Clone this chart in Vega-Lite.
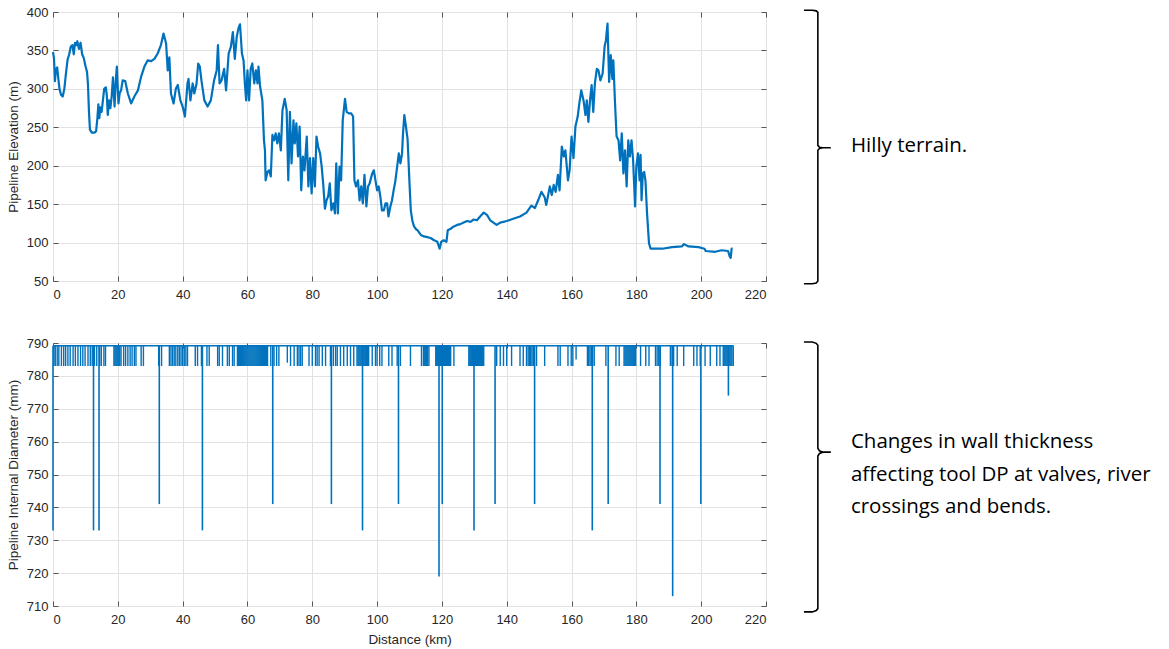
{
  "$schema": "https://vega.github.io/schema/vega-lite/v6.json",
  "background": "white",
  "padding": {"left": 5, "top": 5, "right": 5, "bottom": 5},
  "spacing": 62,
  "bounds": "flush",
  "config": {
    "font": "Liberation Sans",
    "view": {"stroke": "#808080", "strokeWidth": 1},
    "axis": {
      "labelFont": "Liberation Sans", "labelFontSize": 13, "labelColor": "#262626", "labelOverlap": false,
      "titleFont": "Liberation Sans", "titleFontSize": 13.5, "titleFontWeight": "normal", "titleColor": "#262626",
      "gridColor": "#e2e2e2", "gridWidth": 1, "domain": false, "tickColor": "#555555", "tickWidth": 1,
      "titlePadding": 6
    }
  },
  "datasets": {
    "elev": [
      {"km":0,"elev":348},{"km":0.3,"elev":340},{"km":0.6,"elev":310},{"km":0.9,"elev":325},{"km":1.3,"elev":328},{"km":1.6,"elev":315},{"km":2.0,"elev":300},{"km":2.5,"elev":292},{"km":3.0,"elev":290},{"km":3.5,"elev":300},{"km":4.0,"elev":320},{"km":4.5,"elev":338},{"km":5.0,"elev":345},{"km":5.5,"elev":355},{"km":6.0,"elev":357},{"km":6.4,"elev":345},{"km":6.8,"elev":360},{"km":7.2,"elev":357},{"km":7.5,"elev":362},{"km":8.0,"elev":352},{"km":8.5,"elev":360},{"km":9.0,"elev":345},{"km":9.5,"elev":340},{"km":10.0,"elev":330},{"km":10.5,"elev":322},{"km":10.8,"elev":305},{"km":11.1,"elev":270},{"km":11.4,"elev":247},{"km":12.0,"elev":243},{"km":12.8,"elev":243},{"km":13.3,"elev":245},{"km":13.7,"elev":262},{"km":14.0,"elev":280},{"km":14.3,"elev":262},{"km":14.6,"elev":276},{"km":15.0,"elev":270},{"km":15.4,"elev":285},{"km":15.8,"elev":300},{"km":16.3,"elev":302},{"km":16.6,"elev":292},{"km":16.9,"elev":266},{"km":17.3,"elev":285},{"km":17.7,"elev":275},{"km":18.1,"elev":290},{"km":18.5,"elev":315},{"km":19.0,"elev":277},{"km":19.4,"elev":312},{"km":19.7,"elev":329},{"km":20.2,"elev":281},{"km":20.6,"elev":295},{"km":21.0,"elev":298},{"km":21.5,"elev":311},{"km":22.3,"elev":310},{"km":23.1,"elev":294},{"km":24.1,"elev":281},{"km":25.1,"elev":290},{"km":26.2,"elev":298},{"km":27.2,"elev":316},{"km":28.2,"elev":329},{"km":29.2,"elev":337},{"km":30.3,"elev":336},{"km":31.3,"elev":339},{"km":32.3,"elev":346},{"km":33.3,"elev":357},{"km":34.1,"elev":372},{"km":34.9,"elev":359},{"km":35.4,"elev":324},{"km":35.9,"elev":341},{"km":36.4,"elev":294},{"km":37.2,"elev":281},{"km":37.9,"elev":300},{"km":38.5,"elev":305},{"km":39.3,"elev":285},{"km":40.0,"elev":277},{"km":40.7,"elev":264},{"km":41.5,"elev":307},{"km":41.8,"elev":313},{"km":42.4,"elev":285},{"km":43.1,"elev":307},{"km":43.6,"elev":294},{"km":44.3,"elev":307},{"km":44.8,"elev":333},{"km":45.3,"elev":329},{"km":45.8,"elev":311},{"km":46.7,"elev":285},{"km":47.7,"elev":277},{"km":48.7,"elev":285},{"km":49.7,"elev":311},{"km":50.5,"elev":324},{"km":50.9,"elev":357},{"km":51.4,"elev":307},{"km":52.0,"elev":311},{"km":52.8,"elev":326},{"km":53.4,"elev":298},{"km":54.2,"elev":346},{"km":54.9,"elev":355},{"km":55.5,"elev":374},{"km":56.1,"elev":339},{"km":56.7,"elev":368},{"km":57.3,"elev":380},{"km":57.7,"elev":384},{"km":58.3,"elev":346},{"km":58.8,"elev":337},{"km":59.2,"elev":307},{"km":59.6,"elev":285},{"km":60.0,"elev":324},{"km":60.5,"elev":285},{"km":61.0,"elev":326},{"km":61.5,"elev":333},{"km":62.1,"elev":307},{"km":62.6,"elev":324},{"km":63.1,"elev":307},{"km":63.4,"elev":329},{"km":63.9,"elev":303},{"km":64.6,"elev":285},{"km":65.1,"elev":233},{"km":65.4,"elev":220},{"km":65.6,"elev":181},{"km":66.2,"elev":192},{"km":66.7,"elev":194},{"km":67.2,"elev":186},{"km":67.7,"elev":240},{"km":68.2,"elev":233},{"km":68.7,"elev":242},{"km":69.2,"elev":229},{"km":69.7,"elev":242},{"km":70.3,"elev":220},{"km":70.8,"elev":272},{"km":71.5,"elev":287},{"km":72.1,"elev":272},{"km":72.6,"elev":181},{"km":73.1,"elev":270},{"km":73.6,"elev":203},{"km":74.2,"elev":259},{"km":74.6,"elev":229},{"km":75.1,"elev":255},{"km":75.6,"elev":212},{"km":76.1,"elev":251},{"km":76.6,"elev":168},{"km":77.1,"elev":212},{"km":77.6,"elev":194},{"km":78.3,"elev":238},{"km":78.8,"elev":173},{"km":79.3,"elev":210},{"km":79.8,"elev":164},{"km":80.3,"elev":210},{"km":80.8,"elev":173},{"km":81.3,"elev":238},{"km":81.8,"elev":225},{"km":82.4,"elev":216},{"km":82.9,"elev":199},{"km":83.4,"elev":175},{"km":83.9,"elev":144},{"km":84.4,"elev":155},{"km":84.9,"elev":160},{"km":85.4,"elev":177},{"km":85.9,"elev":142},{"km":86.5,"elev":151},{"km":87.0,"elev":138},{"km":87.4,"elev":203},{"km":87.9,"elev":138},{"km":88.4,"elev":199},{"km":88.9,"elev":181},{"km":89.4,"elev":259},{"km":90.1,"elev":287},{"km":90.6,"elev":270},{"km":91.3,"elev":268},{"km":92.0,"elev":268},{"km":92.6,"elev":264},{"km":93.0,"elev":181},{"km":93.5,"elev":173},{"km":94.1,"elev":181},{"km":94.6,"elev":155},{"km":95.1,"elev":173},{"km":95.6,"elev":151},{"km":96.1,"elev":188},{"km":96.7,"elev":147},{"km":97.2,"elev":173},{"km":97.7,"elev":177},{"km":98.5,"elev":190},{"km":99.0,"elev":194},{"km":99.5,"elev":181},{"km":100.0,"elev":168},{"km":100.5,"elev":173},{"km":101.0,"elev":160},{"km":101.5,"elev":142},{"km":102.1,"elev":142},{"km":102.6,"elev":151},{"km":103.1,"elev":151},{"km":103.5,"elev":134},{"km":104.1,"elev":147},{"km":104.6,"elev":155},{"km":105.1,"elev":168},{"km":105.6,"elev":179},{"km":106.2,"elev":199},{"km":106.7,"elev":216},{"km":107.2,"elev":203},{"km":107.7,"elev":216},{"km":108.0,"elev":242},{"km":108.4,"elev":266},{"km":108.9,"elev":251},{"km":109.4,"elev":235},{"km":110.0,"elev":177},{"km":110.4,"elev":142},{"km":110.9,"elev":128},{"km":111.4,"elev":121},{"km":112.1,"elev":117},{"km":112.5,"elev":116},{"km":113.5,"elev":110},{"km":114.5,"elev":108},{"km":115.5,"elev":107},{"km":116.5,"elev":106},{"km":117.6,"elev":103},{"km":118.6,"elev":101},{"km":119.3,"elev":92},{"km":119.8,"elev":101},{"km":120.6,"elev":103},{"km":121.4,"elev":101},{"km":121.8,"elev":116},{"km":122.7,"elev":118},{"km":123.7,"elev":121},{"km":124.7,"elev":123},{"km":125.7,"elev":124},{"km":126.7,"elev":126},{"km":127.8,"elev":128},{"km":128.8,"elev":127},{"km":129.8,"elev":130},{"km":130.8,"elev":129},{"km":131.8,"elev":134},{"km":132.9,"elev":139},{"km":133.9,"elev":136},{"km":134.9,"elev":129},{"km":135.9,"elev":126},{"km":136.9,"elev":123},{"km":138.0,"elev":126},{"km":140.0,"elev":128},{"km":142.0,"elev":131},{"km":144.1,"elev":134},{"km":146.1,"elev":139},{"km":147.6,"elev":148},{"km":148.7,"elev":145},{"km":149.7,"elev":155},{"km":150.7,"elev":166},{"km":151.7,"elev":159},{"km":152.2,"elev":149},{"km":153.3,"elev":173},{"km":153.9,"elev":162},{"km":154.5,"elev":175},{"km":155.1,"elev":166},{"km":155.8,"elev":188},{"km":156.3,"elev":168},{"km":157.0,"elev":225},{"km":157.6,"elev":212},{"km":158.1,"elev":220},{"km":158.9,"elev":181},{"km":159.4,"elev":194},{"km":160.0,"elev":238},{"km":160.6,"elev":210},{"km":161.2,"elev":251},{"km":161.9,"elev":264},{"km":162.4,"elev":281},{"km":163.0,"elev":298},{"km":163.7,"elev":285},{"km":164.3,"elev":266},{"km":164.7,"elev":285},{"km":165.2,"elev":257},{"km":165.7,"elev":285},{"km":166.2,"elev":305},{"km":166.7,"elev":270},{"km":167.2,"elev":307},{"km":167.8,"elev":326},{"km":168.3,"elev":324},{"km":168.9,"elev":311},{"km":169.6,"elev":320},{"km":170.2,"elev":355},{"km":170.6,"elev":363},{"km":171.1,"elev":385},{"km":171.6,"elev":309},{"km":172.1,"elev":344},{"km":172.6,"elev":313},{"km":172.9,"elev":337},{"km":173.4,"elev":283},{"km":173.9,"elev":238},{"km":174.5,"elev":233},{"km":175.0,"elev":207},{"km":175.5,"elev":242},{"km":176.0,"elev":190},{"km":176.5,"elev":220},{"km":177.0,"elev":173},{"km":177.5,"elev":233},{"km":178.0,"elev":212},{"km":178.5,"elev":233},{"km":179.0,"elev":207},{"km":179.6,"elev":147},{"km":180.0,"elev":199},{"km":180.5,"elev":216},{"km":181.0,"elev":181},{"km":181.3,"elev":214},{"km":181.6,"elev":155},{"km":182.0,"elev":190},{"km":182.4,"elev":192},{"km":182.8,"elev":181},{"km":183.3,"elev":138},{"km":183.9,"elev":99},{"km":184.4,"elev":92},{"km":185.9,"elev":92},{"km":188.0,"elev":92},{"km":191.0,"elev":94},{"km":194.0,"elev":95},{"km":194.7,"elev":98},{"km":196.1,"elev":95},{"km":199.2,"elev":94},{"km":201.0,"elev":92},{"km":201.4,"elev":89},{"km":204.3,"elev":88},{"km":206.3,"elev":90},{"km":208.3,"elev":89},{"km":208.8,"elev":82},{"km":209.1,"elev":80},{"km":209.4,"elev":92},{"km":209.7,"elev":92}
    ],
    "brace1": [
      {"i":1,"km":231.7,"elev":402.3},{"i":2,"km":234.3,"elev":402.3},{"i":3,"km":235.5,"elev":401.5},{"i":4,"km":236.0,"elev":399.5},{"i":5,"km":236.0,"elev":226.5},{"i":6,"km":236.5,"elev":224.0},{"i":7,"km":237.5,"elev":223.3},{"i":8,"km":240.0,"elev":223.3},{"i":9,"km":237.5,"elev":223.3},{"i":10,"km":236.5,"elev":222.5},{"i":11,"km":236.0,"elev":220.0},{"i":12,"km":236.0,"elev":50.0},{"i":13,"km":235.5,"elev":47.5},{"i":14,"km":234.3,"elev":46.5},{"i":15,"km":231.7,"elev":46.5}
    ],
    "note1": [{"km":246.2,"elev":226,"label":"Hilly terrain."}],
    "base": [{"km":0,"d":789.2},{"km":210,"d":789.2}],
    "deep": [
      {"km":0.0,"d":733},{"km":12.5,"d":733},{"km":14.2,"d":733},{"km":32.8,"d":741},{"km":46.1,"d":733},{"km":67.8,"d":741},{"km":85.9,"d":741},{"km":95.5,"d":733},{"km":106.6,"d":741},{"km":119.1,"d":719},{"km":120.1,"d":741},{"km":129.9,"d":733},{"km":136.4,"d":741},{"km":148.6,"d":741},{"km":166.4,"d":733},{"km":171.3,"d":741},{"km":187.3,"d":741},{"km":191.2,"d":713},{"km":199.9,"d":741},{"km":208.4,"d":774}
    ],
    "shallow": [
      {"km":0.3,"d":783},{"km":0.7,"d":783},{"km":1.3,"d":783},{"km":1.8,"d":783},{"km":2.6,"d":783},{"km":3.3,"d":783},{"km":3.9,"d":783},{"km":4.6,"d":783},{"km":5.3,"d":783},{"km":6.2,"d":783},{"km":6.9,"d":783},{"km":7.7,"d":783},{"km":8.5,"d":783},{"km":9.2,"d":783},{"km":9.9,"d":783},{"km":10.8,"d":783},{"km":11.5,"d":783},{"km":12.1,"d":783},{"km":12.8,"d":783},{"km":13.5,"d":783},{"km":14.4,"d":783},{"km":14.9,"d":783},{"km":15.7,"d":783},{"km":16.2,"d":783},
      {"km":18.8,"d":783},{"km":19.1,"d":783},{"km":19.4,"d":783},{"km":19.7,"d":783},{"km":20.0,"d":783},{"km":20.3,"d":783},{"km":20.6,"d":783},{"km":21.0,"d":783},{"km":21.8,"d":783},{"km":22.4,"d":783},{"km":23.1,"d":783},{"km":23.8,"d":783},{"km":24.4,"d":783},{"km":25.1,"d":783},{"km":25.6,"d":783},{"km":27.2,"d":783},{"km":27.9,"d":783},
      {"km":32.6,"d":783},{"km":33.5,"d":783},{"km":35.9,"d":783},{"km":36.4,"d":783},{"km":36.9,"d":783},{"km":37.4,"d":783},{"km":37.9,"d":783},{"km":38.5,"d":783},{"km":39.0,"d":783},{"km":39.5,"d":783},{"km":40.0,"d":783},{"km":40.5,"d":783},{"km":41.0,"d":783},{"km":41.5,"d":783},
      {"km":43.9,"d":783},{"km":44.6,"d":783},{"km":45.8,"d":783},{"km":47.5,"d":783},{"km":48.2,"d":783},{"km":50.8,"d":783},{"km":51.3,"d":783},{"km":52.3,"d":783},{"km":53.8,"d":783},{"km":54.4,"d":783},{"km":55.4,"d":783},{"km":55.9,"d":783},
      {"km":56.9,"d":783},{"km":57.2,"d":783},{"km":57.5,"d":783},{"km":57.8,"d":783},{"km":58.1,"d":783},{"km":58.4,"d":783},{"km":58.7,"d":783},{"km":59.0,"d":783},{"km":59.3,"d":783},{"km":59.6,"d":783},{"km":59.9,"d":783},{"km":60.2,"d":783},{"km":60.5,"d":783},{"km":60.8,"d":783},{"km":61.1,"d":783},{"km":61.4,"d":783},{"km":61.7,"d":783},{"km":62.0,"d":783},{"km":62.3,"d":783},{"km":62.6,"d":783},{"km":62.9,"d":783},{"km":63.2,"d":783},{"km":63.5,"d":783},{"km":63.8,"d":783},{"km":64.1,"d":783},{"km":64.4,"d":783},{"km":64.7,"d":783},{"km":65.0,"d":783},{"km":65.3,"d":783},{"km":65.6,"d":783},{"km":65.9,"d":783},{"km":66.2,"d":783},
      {"km":67.2,"d":783},{"km":68.2,"d":783},{"km":69.0,"d":783},{"km":69.7,"d":783},{"km":72.3,"d":784},{"km":73.3,"d":783},{"km":74.4,"d":783},{"km":75.4,"d":783},{"km":75.9,"d":783},{"km":76.4,"d":783},{"km":76.9,"d":783},{"km":79.0,"d":783},{"km":80.0,"d":783},{"km":81.0,"d":783},{"km":81.5,"d":783},{"km":82.1,"d":783},{"km":83.1,"d":783},{"km":84.1,"d":783},{"km":85.6,"d":783},{"km":86.5,"d":783},{"km":87.2,"d":783},{"km":87.7,"d":783},{"km":88.7,"d":783},{"km":89.7,"d":783},{"km":90.8,"d":783},{"km":91.8,"d":783},{"km":92.8,"d":783},
      {"km":93.8,"d":783},{"km":94.1,"d":783},{"km":94.4,"d":783},{"km":94.7,"d":783},{"km":95.0,"d":783},{"km":95.3,"d":783},{"km":95.6,"d":783},{"km":95.9,"d":783},{"km":96.2,"d":783},{"km":96.5,"d":783},{"km":96.8,"d":783},{"km":97.1,"d":783},{"km":97.4,"d":783},
      {"km":98.5,"d":783},{"km":99.5,"d":783},{"km":100.0,"d":783},{"km":100.8,"d":783},{"km":101.5,"d":783},{"km":103.6,"d":783},{"km":104.6,"d":783},{"km":106.2,"d":783},{"km":107.2,"d":783},{"km":110.3,"d":783},{"km":113.7,"d":783},{"km":114.3,"d":783},{"km":114.7,"d":783},{"km":115.0,"d":783},{"km":115.3,"d":783},{"km":115.6,"d":783},{"km":116.0,"d":783},
      {"km":118.1,"d":783},{"km":118.4,"d":783},{"km":118.7,"d":783},{"km":119.0,"d":783},{"km":119.3,"d":783},{"km":119.6,"d":783},{"km":119.9,"d":783},{"km":120.2,"d":783},{"km":120.5,"d":783},{"km":120.8,"d":783},{"km":121.1,"d":783},{"km":121.4,"d":783},{"km":121.7,"d":783},{"km":122.0,"d":783},{"km":122.3,"d":783},{"km":122.7,"d":783},{"km":123.7,"d":783},
      {"km":128.3,"d":783},{"km":128.6,"d":783},{"km":128.9,"d":783},{"km":129.2,"d":783},{"km":129.5,"d":783},{"km":129.8,"d":783},{"km":130.1,"d":783},{"km":130.4,"d":783},{"km":130.7,"d":783},{"km":131.0,"d":783},{"km":131.3,"d":783},{"km":131.6,"d":783},{"km":131.9,"d":783},{"km":132.2,"d":783},{"km":132.5,"d":783},{"km":132.9,"d":783},
      {"km":136.9,"d":783},{"km":138.0,"d":783},{"km":139.0,"d":783},{"km":140.0,"d":783},{"km":141.5,"d":783},{"km":144.1,"d":783},{"km":145.1,"d":783},{"km":146.1,"d":783},{"km":146.6,"d":783},{"km":147.0,"d":783},{"km":147.4,"d":783},{"km":147.8,"d":783},{"km":148.2,"d":783},{"km":149.2,"d":783},{"km":151.7,"d":783},{"km":155.8,"d":783},{"km":156.5,"d":783},{"km":158.9,"d":783},{"km":159.9,"d":783},{"km":160.4,"d":783},{"km":161.4,"d":785},
      {"km":164.9,"d":783},{"km":165.3,"d":783},{"km":165.7,"d":783},{"km":166.1,"d":783},{"km":166.5,"d":783},{"km":167.0,"d":783},{"km":170.6,"d":783},{"km":173.7,"d":783},{"km":174.7,"d":783},
      {"km":176.2,"d":783},{"km":176.5,"d":783},{"km":176.8,"d":783},{"km":177.1,"d":783},{"km":177.4,"d":783},{"km":177.7,"d":783},{"km":178.0,"d":783},{"km":178.3,"d":783},{"km":178.6,"d":783},{"km":178.9,"d":783},{"km":179.2,"d":783},{"km":179.5,"d":783},{"km":179.8,"d":783},
      {"km":181.3,"d":783},{"km":182.9,"d":783},{"km":183.9,"d":783},{"km":185.9,"d":783},{"km":186.4,"d":783},{"km":186.9,"d":783},{"km":187.4,"d":783},{"km":190.5,"d":783},{"km":191.0,"d":783},{"km":191.5,"d":783},{"km":192.6,"d":783},{"km":194.6,"d":783},{"km":197.7,"d":783},{"km":198.7,"d":783},{"km":199.7,"d":783},{"km":201.2,"d":783},{"km":202.8,"d":783},{"km":204.8,"d":783},{"km":205.8,"d":783},
      {"km":206.8,"d":783},{"km":207.1,"d":783},{"km":207.4,"d":783},{"km":207.7,"d":783},{"km":208.0,"d":783},{"km":208.3,"d":783},{"km":208.6,"d":783},{"km":208.9,"d":783},{"km":209.2,"d":783},{"km":209.5,"d":783},{"km":209.9,"d":783}
    ],
    "brace2": [
      {"i":1,"km":231.7,"d":790.3},{"i":2,"km":234.3,"d":790.3},{"i":3,"km":235.5,"d":789.9},{"i":4,"km":236.0,"d":789.3},{"i":5,"km":236.0,"d":758.0},{"i":6,"km":236.5,"d":757.2},{"i":7,"km":237.5,"d":756.8},{"i":8,"km":240.0,"d":756.8},{"i":9,"km":237.5,"d":756.8},{"i":10,"km":236.5,"d":756.4},{"i":11,"km":236.0,"d":755.6},{"i":12,"km":236.0,"d":709.2},{"i":13,"km":235.5,"d":708.6},{"i":14,"km":234.3,"d":708.2},{"i":15,"km":231.7,"d":708.2}
    ],
    "note2": [
      {"km":246.2,"d":760.0,"label":"Changes in wall thickness"},
      {"km":246.2,"d":750.0,"label":"affecting tool DP at valves, river"},
      {"km":246.2,"d":740.2,"label":"crossings and bends."}
    ]
  },
  "vconcat": [
    {
      "width": 713,
      "height": 269,
      "resolve": {"axis": {"x": "independent", "y": "independent"}},
      "layer": [
        {
          "data": {"name": "elev"},
          "mark": {"type": "line", "color": "#0072BD", "strokeWidth": 2.2, "strokeJoin": "round"},
          "encoding": {
            "x": {"field": "km", "type": "quantitative", "scale": {"domain": [0, 220], "nice": false},
                  "axis": {"orient": "bottom", "values": [0,20,40,60,80,100,120,140,160,180,200,220], "title": null, "grid": true, "ticks": false, "labelPadding": 7, "labelOverlap": false}},
            "y": {"field": "elev", "type": "quantitative", "scale": {"domain": [50, 400], "nice": false, "zero": false},
                  "axis": {"orient": "left", "values": [50,100,150,200,250,300,350,400], "title": "Pipeline Elevation (m)", "grid": true, "ticks": false, "labelPadding": 5, "labelOverlap": false}}
          }
        },
        {
          "data": {"name": "brace1"},
          "mark": {"type": "line", "color": "#000000", "strokeWidth": 1.6},
          "encoding": {
            "x": {"field": "km", "type": "quantitative",
                  "axis": {"orient": "top", "values": [0,20,40,60,80,100,120,140,160,180,200,220], "title": null, "grid": false, "labels": false, "ticks": true, "tickSize": 5, "offset": -5}},
            "y": {"field": "elev", "type": "quantitative",
                  "axis": {"orient": "right", "values": [50,100,150,200,250,300,350,400], "title": null, "grid": false, "labels": false, "ticks": true, "tickSize": 5, "offset": -5}},
            "order": {"field": "i"}
          }
        },
        {
          "data": {"name": "note1"},
          "mark": {"type": "text", "align": "left", "baseline": "middle", "font": "Open Sans", "fontSize": 20.5, "color": "#000000"},
          "encoding": {
            "x": {"field": "km", "type": "quantitative",
                  "axis": {"orient": "bottom", "values": [0,20,40,60,80,100,120,140,160,180,200,220], "title": null, "grid": false, "labels": false, "ticks": true, "tickSize": 5, "offset": -5}},
            "y": {"field": "elev", "type": "quantitative",
                  "axis": {"orient": "left", "values": [50,100,150,200,250,300,350,400], "title": null, "grid": false, "labels": false, "ticks": true, "tickSize": 5, "offset": -5}},
            "text": {"field": "label"}
          }
        }
      ]
    },
    {
      "width": 713,
      "height": 263,
      "resolve": {"axis": {"x": "independent", "y": "independent"}},
      "layer": [
        {
          "data": {"name": "base"},
          "mark": {"type": "line", "color": "#0072BD", "strokeWidth": 1.5},
          "encoding": {
            "x": {"field": "km", "type": "quantitative", "scale": {"domain": [0, 220], "nice": false},
                  "axis": {"orient": "bottom", "values": [0,20,40,60,80,100,120,140,160,180,200,220], "title": "Distance (km)", "grid": true, "ticks": false, "labelPadding": 7, "labelOverlap": false}},
            "y": {"field": "d", "type": "quantitative", "scale": {"domain": [710, 790], "nice": false, "zero": false},
                  "axis": {"orient": "left", "values": [710,720,730,740,750,760,770,780,790], "title": "Pipeline Internal Diameter (mm)", "grid": true, "ticks": false, "labelPadding": 5, "labelOverlap": false}}
          }
        },
        {
          "data": {"name": "shallow"},
          "mark": {"type": "rule", "color": "#0072BD", "strokeWidth": 1.4},
          "encoding": {
            "x": {"field": "km", "type": "quantitative",
                  "axis": {"orient": "top", "values": [0,20,40,60,80,100,120,140,160,180,200,220], "title": null, "grid": false, "labels": false, "ticks": true, "tickSize": 5, "offset": -5}},
            "y": {"field": "d", "type": "quantitative",
                  "axis": {"orient": "right", "values": [710,720,730,740,750,760,770,780,790], "title": null, "grid": false, "labels": false, "ticks": true, "tickSize": 5, "offset": -5}},
            "y2": {"datum": 789.2}
          }
        },
        {
          "data": {"name": "deep"},
          "mark": {"type": "rule", "color": "#0072BD", "strokeWidth": 1.6},
          "encoding": {
            "x": {"field": "km", "type": "quantitative",
                  "axis": {"orient": "bottom", "values": [0,20,40,60,80,100,120,140,160,180,200,220], "title": null, "grid": false, "labels": false, "ticks": true, "tickSize": 5, "offset": -5}},
            "y": {"field": "d", "type": "quantitative",
                  "axis": {"orient": "left", "values": [710,720,730,740,750,760,770,780,790], "title": null, "grid": false, "labels": false, "ticks": true, "tickSize": 5, "offset": -5}},
            "y2": {"datum": 789.2}
          }
        },
        {
          "data": {"name": "brace2"},
          "mark": {"type": "line", "color": "#000000", "strokeWidth": 1.6},
          "encoding": {
            "x": {"field": "km", "type": "quantitative", "axis": null},
            "y": {"field": "d", "type": "quantitative", "axis": null},
            "order": {"field": "i"}
          }
        },
        {
          "data": {"name": "note2"},
          "mark": {"type": "text", "align": "left", "baseline": "middle", "font": "Open Sans", "fontSize": 20.5, "color": "#000000"},
          "encoding": {
            "x": {"field": "km", "type": "quantitative", "axis": null},
            "y": {"field": "d", "type": "quantitative", "axis": null},
            "text": {"field": "label"}
          }
        }
      ]
    }
  ]
}
